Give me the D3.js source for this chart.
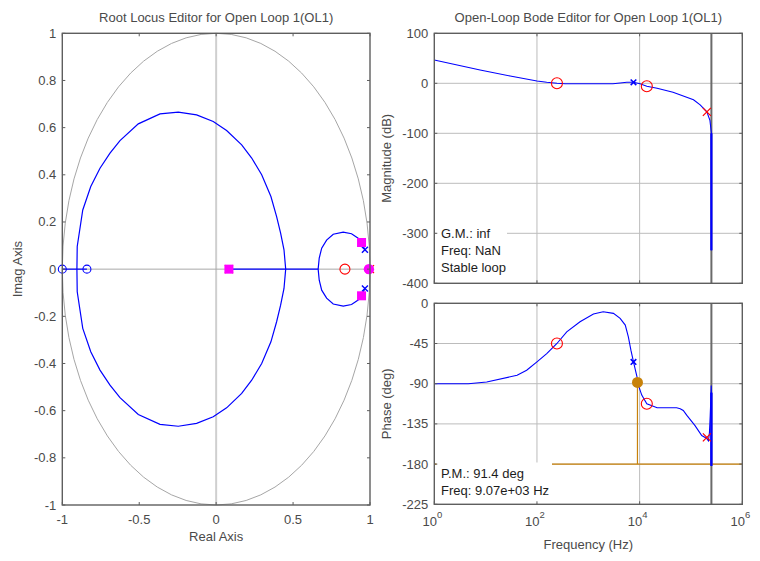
<!DOCTYPE html>
<html>
<head>
<meta charset="utf-8">
<script src="https://cdnjs.cloudflare.com/ajax/libs/d3/7.8.5/d3.min.js"></script>
<style>
  html, body { margin: 0; padding: 0; background: #fff; }
  svg { display: block; font-family: "Liberation Sans", Arial, Helvetica, sans-serif; }
</style>
</head>
<body>
<svg id="chart" width="760" height="561"></svg>
<script>
// ---------- Root locus data (z-plane) ----------
// upper half of the large locus branch (lower half is its conjugate)
const bigBranchRe = [-0.905, -0.903, -0.867, -0.815, -0.755, -0.690, -0.625, -0.506, -0.365, -0.246, -0.127, -0.019, 0.068, 0.166, 0.231, 0.296, 0.356, 0.393, 0.419, 0.441, 0.452];
const bigBranchIm = [0.000, 0.096, 0.251, 0.350, 0.428, 0.492, 0.545, 0.616, 0.658, 0.666, 0.654, 0.626, 0.588, 0.527, 0.471, 0.400, 0.308, 0.223, 0.153, 0.082, 0.000];
// upper half of the small loop near z = 1
const smallLoopRe = [0.663, 0.670, 0.686, 0.718, 0.761, 0.826, 0.880, 0.923, 0.945, 0.967];
const smallLoopIm = [0.000, 0.047, 0.089, 0.123, 0.148, 0.157, 0.150, 0.131, 0.113, 0.082];
// locus segments lying on the real axis
const realSegStart = [-1.0, 0.083];
const realSegEnd = [-0.84, 0.663];
// plant poles / zeros
const plantPolesRe = [0.083, 1.0];
const plantZerosRe = [0.837];
// compensator poles / zeros
const compPolesRe = [0.967, 0.967];
const compPolesIm = [0.082, -0.082];
const compZerosRe = [-1.0, -0.84];
// closed-loop poles
const clSquaresRe = [0.083, 0.945, 0.945];
const clSquaresIm = [0.000, 0.113, -0.113];
const clCircleRe = [0.993];

const rlTicksX = [-1, -0.5, 0, 0.5, 1];
const rlTicksY = [1, 0.8, 0.6, 0.4, 0.2, 0, -0.2, -0.4, -0.6, -0.8, -1];

// ---------- Bode data ----------
const magFreq = [1, 7.8, 30, 100, 155, 245, 355, 1000, 3020, 4170, 5620, 7590, 10200, 13800, 21900, 44700, 112000, 151000, 204000, 234000, 250000, 250000];
const magDb = [46.6, 26.6, 14.6, 4.6, 2.0, 0.0, -1.0, -1.0, -1.0, 0.6, 2.0, 2.0, -1.0, -6.0, -10.0, -18.0, -33.0, -43.0, -57.0, -74.0, -100.0, -334.0];

const phaseFreq = [1, 4.6, 10.5, 41, 63, 100, 155, 245, 380, 690, 1260, 1950, 3090, 4170, 5250, 6030, 6760, 7590, 8910, 9120, 11000, 13800, 21900, 33900, 52500, 61700, 70800, 83200, 120000, 162000, 200000, 219000, 229000, 237000, 244000, 248000, 250000, 250000];
const phaseDeg = [-90, -90, -88.1, -80.6, -75, -65.6, -56.3, -45, -31.9, -20.6, -12, -9.4, -11.3, -16.9, -24.4, -37.5, -52.5, -65.6, -82.5, -89, -102.8, -112.5, -117, -117, -117, -118, -120, -125.5, -137, -148, -151, -154, -144.6, -126, -107, -92, -100, -182];

const nyquistHz = 250000;
const bodeZerosHz = [245, 13800];
const bodeZerosMag = [0, -6];
const bodeZerosPh = [-45, -112.5];
const bodePoleHz = [204000];
const bodePoleMag = [-57];
const bodePolePh = [-150];
const compPoleHz = [7590];
const compPoleMag = [2];
const compPolePh = [-65.6];
const pmFreq = 9070;
const pmDeg = 91.4;

const magTicks = [100, 0, -100, -200, -300, -400];
const phaseTicks = [0, -45, -90, -135, -180, -225];
const freqTicks = [1, 100, 10000, 1000000];

// ---------- styling ----------
const C = {
  axis: "#5e5e5e", tickText: "#4a4a4a", grid: "#bcbcbc",
  blue: "#0000ff", red: "#ff0000", magenta: "#ff00ff", orange: "#c8820a",
  nyq: "#6a6a6a", unit: "#a6a6a6"
};
const FONT = 13;

const svg = d3.select("#chart");
svg.append("rect").attr("width", 760).attr("height", 561).attr("fill", "#fff");

// helpers
function xMark(g, cx, cy, r, color, w) {
  g.append("path")
    .attr("d", `M${cx - r},${cy - r}L${cx + r},${cy + r}M${cx - r},${cy + r}L${cx + r},${cy - r}`)
    .attr("stroke", color).attr("stroke-width", w || 1.2).attr("fill", "none");
}
function oMark(g, cx, cy, r, color) {
  g.append("circle").attr("cx", cx).attr("cy", cy).attr("r", r)
    .attr("fill", "none").attr("stroke", color).attr("stroke-width", 1.1);
}
function frame(g, x0, x1, y0, y1) {
  g.append("rect").attr("x", x0).attr("y", y0).attr("width", x1 - x0).attr("height", y1 - y0)
    .attr("fill", "none").attr("stroke", C.axis).attr("stroke-width", 1.4);
}

// =================== Root locus ===================
const rl = { l: 62.3, r: 370, t: 33.3, b: 505 };
const xR = d3.scaleLinear().domain([-1, 1]).range([rl.l, rl.r]);
const yI = d3.scaleLinear().domain([-1, 1]).range([rl.b, rl.t]);
const gRL = svg.append("g");

// axis lines through the origin
gRL.append("line").attr("x1", xR(0)).attr("x2", xR(0)).attr("y1", rl.t).attr("y2", rl.b)
  .attr("stroke", "#cfcfcf").attr("stroke-width", 2);
gRL.append("line").attr("x1", rl.l).attr("x2", rl.r).attr("y1", yI(0)).attr("y2", yI(0))
  .attr("stroke", "#a8a8a8").attr("stroke-width", 1);

// unit circle
gRL.append("ellipse").attr("cx", xR(0)).attr("cy", yI(0))
  .attr("rx", xR(1) - xR(0)).attr("ry", yI(0) - yI(1))
  .attr("fill", "none").attr("stroke", C.unit).attr("stroke-width", 1);

const rlLine = d3.line().x(d => xR(d[0])).y(d => yI(d[1]));
function branch(reArr, imArr, sign) {
  return reArr.map((r, i) => [r, sign * imArr[i]]);
}
[1, -1].forEach(s => {
  gRL.append("path").attr("d", rlLine(branch(bigBranchRe, bigBranchIm, s)))
    .attr("fill", "none").attr("stroke", C.blue).attr("stroke-width", 1.2);
  gRL.append("path").attr("d", rlLine(branch(smallLoopRe, smallLoopIm, s)))
    .attr("fill", "none").attr("stroke", C.blue).attr("stroke-width", 1.2);
});
realSegStart.forEach((a, i) => {
  gRL.append("path").attr("d", rlLine([[a, 0], [realSegEnd[i], 0]]))
    .attr("stroke", C.blue).attr("stroke-width", 1.2).attr("fill", "none");
});

// plant poles / zeros
plantPolesRe.forEach(r => xMark(gRL, xR(r), yI(0), 4, C.red));
plantZerosRe.forEach(r => oMark(gRL, xR(r), yI(0), 5, C.red));
// compensator
compPolesRe.forEach((r, i) => xMark(gRL, xR(r), yI(compPolesIm[i]), 3, C.blue, 1.4));
compZerosRe.forEach(r => oMark(gRL, xR(r), yI(0), 4, C.blue));
// closed-loop poles
clSquaresRe.forEach((r, i) => {
  gRL.append("rect").attr("x", xR(r) - 4.5).attr("y", yI(clSquaresIm[i]) - 4.5)
    .attr("width", 9).attr("height", 9).attr("fill", C.magenta);
});
clCircleRe.forEach(r => {
  gRL.append("circle").attr("cx", xR(r)).attr("cy", yI(0)).attr("r", 5.2).attr("fill", C.magenta);
});

frame(gRL, rl.l, rl.r, rl.t, rl.b);
// ticks
rlTicksX.forEach(v => {
  gRL.append("line").attr("x1", xR(v)).attr("x2", xR(v)).attr("y1", rl.b).attr("y2", rl.b - 3).attr("stroke", C.axis);
  gRL.append("line").attr("x1", xR(v)).attr("x2", xR(v)).attr("y1", rl.t).attr("y2", rl.t + 3).attr("stroke", C.axis);
  gRL.append("text").attr("x", xR(v)).attr("y", rl.b + 19).attr("text-anchor", "middle")
    .attr("font-size", FONT).attr("fill", C.tickText).text(String(v));
});
rlTicksY.forEach(v => {
  gRL.append("line").attr("x1", rl.l).attr("x2", rl.l + 3).attr("y1", yI(v)).attr("y2", yI(v)).attr("stroke", C.axis);
  gRL.append("line").attr("x1", rl.r).attr("x2", rl.r - 3).attr("y1", yI(v)).attr("y2", yI(v)).attr("stroke", C.axis);
  gRL.append("text").attr("x", rl.l - 6).attr("y", yI(v) + 4.5).attr("text-anchor", "end")
    .attr("font-size", FONT).attr("fill", C.tickText).text(String(v));
});
gRL.append("text").attr("x", (rl.l + rl.r) / 2).attr("y", 22).attr("text-anchor", "middle")
  .attr("font-size", FONT).attr("fill", C.tickText).text("Root Locus Editor for Open Loop 1(OL1)");
gRL.append("text").attr("x", (rl.l + rl.r) / 2).attr("y", 541).attr("text-anchor", "middle")
  .attr("font-size", FONT).attr("fill", C.tickText).text("Real Axis");
gRL.append("text").attr("transform", `translate(22,${(rl.t + rl.b) / 2}) rotate(-90)`)
  .attr("text-anchor", "middle").attr("font-size", FONT).attr("fill", C.tickText).text("Imag Axis");

// =================== Bode ===================
const bd = { l: 434.3, r: 742.3 };
const mg = { t: 33.3, b: 283.3 };
const ph = { t: 303.3, b: 504.3 };
const xF = d3.scaleLog().domain([1, 1e6]).range([bd.l, bd.r]);
const yM = d3.scaleLinear().domain([-400, 100]).range([mg.b, mg.t]);
const yP = d3.scaleLinear().domain([-225, 0]).range([ph.b, ph.t]);

function bodePanel(yS, box, ticks, freqVals, vals) {
  const g = svg.append("g");
  // grid
  [100, 10000].forEach(f => {
    g.append("line").attr("x1", xF(f)).attr("x2", xF(f)).attr("y1", box.t).attr("y2", box.b)
      .attr("stroke", C.grid).attr("stroke-width", 1);
  });
  ticks.slice(1, -1).forEach(v => {
    g.append("line").attr("x1", bd.l).attr("x2", bd.r).attr("y1", yS(v)).attr("y2", yS(v))
      .attr("stroke", C.grid).attr("stroke-width", 1);
  });
  // Nyquist frequency
  g.append("line").attr("x1", xF(nyquistHz)).attr("x2", xF(nyquistHz)).attr("y1", box.t).attr("y2", box.b)
    .attr("stroke", C.nyq).attr("stroke-width", 2);
  return g;
}

const gM = bodePanel(yM, mg, magTicks);
const gP = bodePanel(yP, ph, phaseTicks);

// stability-margin guide lines (phase panel)
gP.append("line").attr("x1", bd.l).attr("x2", bd.r).attr("y1", yP(-180)).attr("y2", yP(-180))
  .attr("stroke", C.orange).attr("stroke-width", 1.2);
gP.append("line").attr("x1", xF(pmFreq)).attr("x2", xF(pmFreq)).attr("y1", yP(-180)).attr("y2", yP(-180 + pmDeg))
  .attr("stroke", C.orange).attr("stroke-width", 1.2);

// curves
const magPts = magFreq.map((f, i) => [f, magDb[i]]);
const phPts = phaseFreq.map((f, i) => [f, phaseDeg[i]]);
const mLine = d3.line().x(d => xF(d[0])).y(d => yM(d[1]));
const pLine = d3.line().x(d => xF(d[0])).y(d => yP(d[1]));
gM.append("path").attr("d", mLine(magPts)).attr("fill", "none").attr("stroke", C.blue).attr("stroke-width", 1.1);
gM.append("path").attr("d", mLine(magPts.slice(-2))).attr("fill", "none").attr("stroke", C.blue).attr("stroke-width", 2.2);
gP.append("path").attr("d", pLine(phPts)).attr("fill", "none").attr("stroke", C.blue).attr("stroke-width", 1.1);
gP.append("path").attr("d", pLine(phPts.slice(-2))).attr("fill", "none").attr("stroke", C.blue).attr("stroke-width", 2.4);

// markers
bodeZerosHz.forEach((f, i) => {
  oMark(gM, xF(f), yM(bodeZerosMag[i]), 5.5, C.red);
  oMark(gP, xF(f), yP(bodeZerosPh[i]), 5.5, C.red);
});
bodePoleHz.forEach((f, i) => {
  xMark(gM, xF(f), yM(bodePoleMag[i]), 4, C.red);
  xMark(gP, xF(f), yP(bodePolePh[i]), 4, C.red);
});
compPoleHz.forEach((f, i) => {
  xMark(gM, xF(f), yM(compPoleMag[i]), 2.8, C.blue, 1.6);
  xMark(gP, xF(f), yP(compPolePh[i]), 2.8, C.blue, 1.6);
});
gP.append("circle").attr("cx", xF(pmFreq)).attr("cy", yP(-180 + pmDeg)).attr("r", 5.5).attr("fill", C.orange);

// margin read-outs
function infoBox(g, x, y, w, h, lines, y0) {
  g.append("rect").attr("x", x).attr("y", y).attr("width", w).attr("height", h).attr("fill", "#fff");
  lines.forEach((s, i) => {
    g.append("text").attr("x", x + 4.5).attr("y", y0 + i * 17.3).attr("font-size", FONT)
      .attr("fill", "#1c1c1c").text(s);
  });
}
infoBox(gM, 436.5, 224, 70.5, 58, ["G.M.: inf", "Freq: NaN", "Stable loop"], 237.5);
infoBox(gP, 436.5, 462.5, 115.5, 41, ["P.M.: " + pmDeg + " deg", "Freq: 9.07e+03 Hz"], 477.5);

// frames, ticks, labels
frame(gM, bd.l, bd.r, mg.t, mg.b);
frame(gP, bd.l, bd.r, ph.t, ph.b);
[[gM, yM, mg, magTicks], [gP, yP, ph, phaseTicks]].forEach(([g, yS, box, ticks]) => {
  ticks.forEach(v => {
    g.append("line").attr("x1", bd.l).attr("x2", bd.l + 3).attr("y1", yS(v)).attr("y2", yS(v)).attr("stroke", C.axis);
    g.append("line").attr("x1", bd.r).attr("x2", bd.r - 3).attr("y1", yS(v)).attr("y2", yS(v)).attr("stroke", C.axis);
    g.append("text").attr("x", bd.l - 6).attr("y", yS(v) + 4.5).attr("text-anchor", "end")
      .attr("font-size", FONT).attr("fill", C.tickText).text(String(v));
  });
  freqTicks.forEach(f => {
    g.append("line").attr("x1", xF(f)).attr("x2", xF(f)).attr("y1", box.b).attr("y2", box.b - 3).attr("stroke", C.axis);
    g.append("line").attr("x1", xF(f)).attr("x2", xF(f)).attr("y1", box.t).attr("y2", box.t + 3).attr("stroke", C.axis);
  });
});
freqTicks.forEach(f => {
  const t = gP.append("text").attr("x", xF(f) - 2).attr("y", ph.b + 22).attr("text-anchor", "middle")
    .attr("font-size", FONT).attr("fill", C.tickText);
  t.append("tspan").text("10");
  t.append("tspan").attr("dy", -8).attr("font-size", 9.5).text(String(Math.round(Math.log10(f))));
});
svg.append("text").attr("x", (bd.l + bd.r) / 2).attr("y", 22).attr("text-anchor", "middle")
  .attr("font-size", FONT).attr("fill", C.tickText).text("Open-Loop Bode Editor for Open Loop 1(OL1)");
svg.append("text").attr("x", (bd.l + bd.r) / 2).attr("y", 549).attr("text-anchor", "middle")
  .attr("font-size", FONT).attr("fill", C.tickText).text("Frequency (Hz)");
svg.append("text").attr("transform", `translate(391,${(mg.t + mg.b) / 2}) rotate(-90)`)
  .attr("text-anchor", "middle").attr("font-size", FONT).attr("fill", C.tickText).text("Magnitude (dB)");
svg.append("text").attr("transform", `translate(391,${(ph.t + ph.b) / 2}) rotate(-90)`)
  .attr("text-anchor", "middle").attr("font-size", FONT).attr("fill", C.tickText).text("Phase (deg)");
</script>
</body>
</html>
